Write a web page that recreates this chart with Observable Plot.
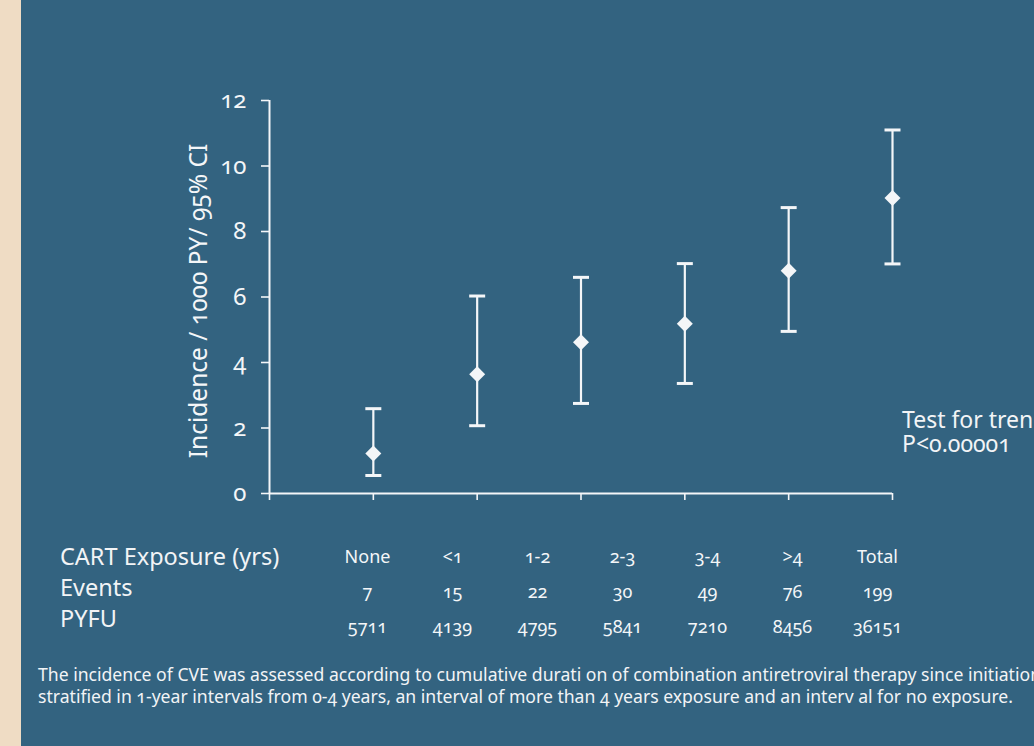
<!DOCTYPE html>
<html>
<head>
<meta charset="utf-8">
<script src="https://cdn.jsdelivr.net/npm/d3@7"></script>
<script src="https://cdn.jsdelivr.net/npm/@observablehq/plot@0.6"></script>
<style>
  html, body { margin: 0; padding: 0; overflow: hidden; }
  body { width: 1034px; height: 746px; background: #336380; font-family: "Noto Sans", sans-serif; color: #f2f4f6; font-variant-numeric: oldstyle-nums; }
  #page { position: relative; width: 1034px; height: 746px; overflow: hidden; background: #336380; }
  #strip { position: absolute; left: 0; top: 0; width: 21px; height: 746px; background: #efdcc4; }
  .abs { position: absolute; white-space: nowrap; }
  #chart, #table { position: absolute; left: 0; }
  #chart { top: 0; }
  #table { top: 530px; }
  #trend1 { left: 902px; top: 407px; font-size: 23px; line-height: 24px; }
  #trend2 { left: 902px; top: 431px; font-size: 23px; line-height: 24px; }
  #rows { left: 60px; top: 541px; font-size: 23.5px; line-height: 31px; }
  #caption { left: 38px; top: 663px; font-size: 17.6px; line-height: 22px; }
  svg text { font-variant-numeric: oldstyle-nums; }
</style>
</head>
<body>
<div id="page">
  <div id="strip"></div>
  <div id="chart"></div>
  <div id="table"></div>
  <div id="trend1" class="abs">Test for trend</div>
  <div id="trend2" class="abs">P&lt;0.00001</div>
  <div id="rows" class="abs"></div>
  <div id="caption" class="abs">The incidence of CVE was assessed according to cumulative durati on of combination antiretroviral therapy since initiation<br>stratified in 1-year intervals from 0-4 years, an interval of more than 4 years exposure and an interv al for no exposure.</div>
</div>
<script>
// ---- data ----
const categories = ["None", "<1", "1-2", "2-3", "3-4", ">4"];
const incidence = [1.22, 3.64, 4.62, 5.18, 6.80, 9.02];
const ciLow = [0.55, 2.07, 2.75, 3.36, 4.95, 7.01];
const ciHigh = [2.59, 6.03, 6.60, 7.02, 8.73, 11.10];
const yTicks = [0, 2, 4, 6, 8, 10, 12];
const yLabel = "Incidence / 1000 PY/ 95% CI";

const tableColumns = ["None", "<1", "1-2", "2-3", "3-4", ">4", "Total"];
const events = [7, 15, 22, 30, 49, 76, 199];
const pyfu = [5711, 4139, 4795, 5841, 7210, 8456, 36151];
const rowLabels = ["CART Exposure (yrs)", "Events", "PYFU"];

// ---- derived tables ----
const points = categories.map((c, i) => ({cat: c, pos: i + 1, v: incidence[i], lo: ciLow[i], hi: ciHigh[i]}));
const table = tableColumns.map((c, i) => ({col: c, events: String(events[i]), pyfu: String(pyfu[i])}));

const WHITE = "#f4f6f8";
const capSymbol = { draw(ctx, size) { ctx.moveTo(-8, 0); ctx.lineTo(8, 0); } };

const chart = Plot.plot({
  width: 1034, height: 520,
  marginLeft: 269, marginRight: 142, marginTop: 100, marginBottom: 27,
  style: {background: "transparent", color: WHITE, fontFamily: "Noto Sans", fontSize: "24px", overflow: "visible"},
  x: {domain: [0, categories.length], axis: null},
  y: {domain: [yTicks[0], yTicks[yTicks.length - 1]], axis: null},
  marks: [
    Plot.axisY({ticks: yTicks, tickSize: 8, tickPadding: 15, label: null, stroke: WHITE, strokeWidth: 1.6, fill: WHITE, fontSize: 24}),
    Plot.axisX({ticks: d3.range(0, categories.length + 1), tickSize: 7, tickFormat: () => "", label: null, stroke: WHITE, strokeWidth: 1.6}),
    Plot.ruleX([0], {y1: yTicks[0], y2: yTicks[yTicks.length - 1], stroke: WHITE, strokeWidth: 2}),
    Plot.ruleY([0], {stroke: WHITE, strokeWidth: 2}),
    Plot.text([yLabel], {frameAnchor: "left", textAnchor: "middle", lineAnchor: "middle", rotate: -90, dx: -70, dy: 4, fontSize: 24.5, fill: WHITE}),
    Plot.ruleX(points, {x: "pos", y1: "lo", y2: "hi", stroke: WHITE, strokeWidth: 2.2}),
    Plot.dot(points, {x: "pos", y: "lo", symbol: capSymbol, stroke: WHITE, strokeWidth: 3, r: 5}),
    Plot.dot(points, {x: "pos", y: "hi", symbol: capSymbol, stroke: WHITE, strokeWidth: 3, r: 5}),
    Plot.dot(points, {x: "pos", y: "v", symbol: "diamond2", r: 7.2, fill: WHITE, stroke: "none"})
  ]
});
document.getElementById("chart").appendChild(chart);

const tablePlot = Plot.plot({
  width: 1034, height: 120,
  margin: 0,
  style: {background: "transparent", color: WHITE, fontFamily: "Noto Sans", fontSize: "18px"},
  x: {type: "point", domain: tableColumns, range: [365, 879], padding: 0, axis: null},
  y: {type: "point", domain: ["col", "events", "pyfu"], range: [26, 97], padding: 0, axis: null},
  marks: [
    Plot.text(table, {x: "col", y: () => "col", text: "col", fill: WHITE, fontSize: 18}),
    Plot.text(table, {x: "col", y: () => "events", text: "events", fill: WHITE, fontSize: 18}),
    Plot.text(table, {x: "col", y: () => "pyfu", text: "pyfu", fill: WHITE, fontSize: 18})
  ]
});
document.getElementById("table").appendChild(tablePlot);

document.getElementById("rows").innerHTML = rowLabels.join("<br>");
</script>
</body>
</html>
